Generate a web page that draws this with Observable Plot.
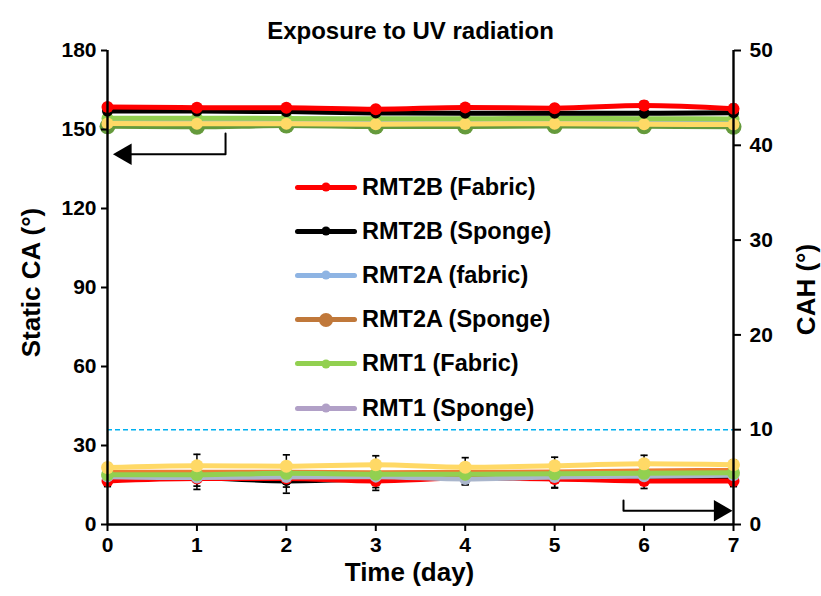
<!DOCTYPE html>
<html><head><meta charset="utf-8">
<script src="https://cdn.jsdelivr.net/npm/d3@7"></script>
<script src="https://cdn.jsdelivr.net/npm/@observablehq/plot@0.6"></script>
<style>
body{margin:0;background:#fff;font-family:"Liberation Sans",Arial,sans-serif;}
#wrap{position:relative;width:821px;height:596px;}
#legend{position:absolute;left:295px;top:165px;}
.row{display:flex;align-items:center;height:44.2px;}
.sw{position:relative;width:62px;height:22px;margin-right:5px}
.sw .ln{position:absolute;left:0;right:0;top:8.5px;height:5px;border-radius:3px}
.sw .dt{position:absolute;left:50%;top:50%;border-radius:50%;transform:translate(-50%,-50%)}
.lb{font-weight:bold;font-size:23.5px;color:#000;white-space:nowrap}
</style></head>
<body><div id="wrap"><div id="chart"></div><div id="legend"></div></div>
<script>
const days = [0,1,2,3,4,5,6,7];
const xTicks = [0,1,2,3,4,5,6,7];
const caTicks = [0,30,60,90,120,150,180];
const cahTicks = [0,10,20,30,40,50];
const cahMax = 50, caMax = 180;

// Static CA (left axis)
const caRed    = [158.5,158.3,158.3,157.7,158.4,158.1,159.1,157.9];
const caRedErr = [1.2,1.2,1.2,1.3,1.3,1.3,1.6,1.6];
const caBlack  = [157.0,157.0,156.8,156.3,156.2,156.2,156.2,156.4];
const caBlackErr = [0.6,0.8,0.8,0.8,0.8,0.8,1.0,0.8];
const caBlue   = [153.6,153.5,153.6,153.4,153.5,153.5,153.4,153.3];
const caLGreen = [154.3,154.3,154.2,154.1,154.1,154.2,154.1,154.0];
const caYellow = [152.3,152.2,152.2,152.0,152.1,152.2,152.0,151.9];
const caDGreen = [151.2,151.0,151.5,151.1,151.1,151.3,151.2,151.0];

// CAH (right axis)
const cahYellow = [6.0,6.2,6.15,6.3,6.05,6.2,6.4,6.3];
const cahYellowErr = [0.5,1.2,1.2,0.95,1.0,0.9,0.9,0.5];
const cahOrange = [5.5,5.5,5.5,5.45,5.5,5.55,5.65,5.7];
const cahGreen  = [5.25,5.25,5.4,5.3,5.3,5.35,5.4,5.45];
const cahBlue   = [5.05,4.95,5.0,5.05,4.8,5.0,5.1,5.2];
const cahBlack  = [4.75,4.9,4.6,4.8,4.9,4.85,5.0,5.0];
const cahBlackErr = [0.5,1.2,1.3,0.9,0.7,1.0,0.6,0.6];
const cahRed    = [4.6,4.85,4.85,4.6,4.9,4.8,4.6,4.6];
const cahRedErr = [0.6,0.8,0.9,1.0,0.7,0.9,0.8,0.6];

const legendNames = ["RMT2B (Fabric)","RMT2B (Sponge)","RMT2A (fabric)","RMT2A (Sponge)","RMT1 (Fabric)","RMT1 (Sponge)"];
const legendColors = ["#FF0000","#000000","#8EB4E3","#C0783A","#92D050","#B1A0C7"];
const legendDot = [9,9,9,14,9,9];

// annotation arrows (data units: day, CA)
const arrowTop = [[1.32,148.5],[1.32,140.6],[0.25,140.6]];
const arrowTopHead = [[0.2,140.6]];
const arrowBot = [[5.77,9.1],[5.77,5.2],[6.8,5.2]];
const arrowBotHead = [[6.85,5.2]];

const k = caMax / cahMax;
const rows = (vals, scale=1) => days.map((d,i)=>({day:d, v: vals[i]*scale}));
const errRows = (vals, errs, scale=1) => days.map((d,i)=>({day:d, lo:(vals[i]-errs[i])*scale, hi:(vals[i]+errs[i])*scale}));

const topSeries = [
  {v:caDGreen, c:"#659A3C", r:8},
  {v:caBlue, c:"#AAB6CC", r:5},
  {v:caLGreen, c:"#92D050", r:6},
  {v:caYellow, c:"#FFD966", r:6},
  {v:caBlack, c:"#000000", r:5.5},
  {v:caRed, c:"#FF0000", r:6},
];
const botSeries = [
  {v:cahBlack, c:"#000000", r:5},
  {v:cahRed, c:"#FF0000", r:6},
  {v:cahBlue, c:"#AAB6CC", r:6},
  {v:cahOrange, c:"#ED7D31", r:5},
  {v:cahGreen, c:"#92D050", r:6.5},
  {v:cahYellow, c:"#FFD966", r:6.5},
];
const errs = [
  errRows(caRed, caRedErr), errRows(caBlack, caBlackErr),
  errRows(cahYellow, cahYellowErr, k), errRows(cahBlack, cahBlackErr, k), errRows(cahRed, cahRedErr, k)
];

const marks = [];
marks.push(Plot.ruleY([10*k], {stroke:"#00B0F0", strokeWidth:1.6, strokeDasharray:"5,3"}));
for (const e of errs) {
  marks.push(Plot.ruleX(e, {x:"day", y1:"lo", y2:"hi", stroke:"#000", strokeWidth:1.5}));
  marks.push(Plot.link(e, {x1:d=>d.day-0.04, x2:d=>d.day+0.04, y1:"lo", y2:"lo", stroke:"#000", strokeWidth:1.7}));
  marks.push(Plot.link(e, {x1:d=>d.day-0.04, x2:d=>d.day+0.04, y1:"hi", y2:"hi", stroke:"#000", strokeWidth:1.7}));
}
for (const s of topSeries) {
  const r = rows(s.v);
  marks.push(Plot.line(r, {x:"day", y:"v", stroke:s.c, strokeWidth:5, curve:"monotone-x"}));
  marks.push(Plot.dot(r, {x:"day", y:"v", fill:s.c, r:s.r}));
}
for (const s of botSeries) {
  const r = rows(s.v, k);
  marks.push(Plot.line(r, {x:"day", y:"v", stroke:s.c, strokeWidth:5, curve:"monotone-x"}));
  marks.push(Plot.dot(r, {x:"day", y:"v", fill:s.c, r:s.r}));
}
marks.push(Plot.line(arrowTop, {x:d=>d[0], y:d=>d[1], stroke:"#000", strokeWidth:2}));
marks.push(Plot.dot(arrowTopHead, {x:d=>d[0], y:d=>d[1], symbol:"triangle", fill:"#000", r:8, rotate:-90}));
marks.push(Plot.line(arrowBot, {x:d=>d[0], y:d=>d[1], stroke:"#000", strokeWidth:2}));
marks.push(Plot.dot(arrowBotHead, {x:d=>d[0], y:d=>d[1], symbol:"triangle", fill:"#000", r:8, rotate:90}));
marks.push(Plot.ruleY([0], {stroke:"#000", strokeWidth:2.4}));
marks.push(Plot.ruleX([0], {stroke:"#000", strokeWidth:2.4}));
marks.push(Plot.ruleX([7], {stroke:"#000", strokeWidth:2.4}));
marks.push(Plot.axisX(xTicks, {tickSize:7, tickPadding:6, strokeWidth:2, fontSize:21, fontWeight:"bold", label:null, tickFormat:d=>d}));
marks.push(Plot.axisY(caTicks, {anchor:"left", tickSize:6, tickPadding:5, strokeWidth:2, fontSize:21, fontWeight:"bold", label:null, tickFormat:d=>d}));
marks.push(Plot.axisY(cahTicks.map(t=>t*k), {anchor:"right", tickSize:7, tickPadding:9, strokeWidth:2, fontSize:21, fontWeight:"bold", label:null, tickFormat:d=>Math.round(d/k)}));
marks.push(Plot.text(["Exposure to UV radiation"], {frameAnchor:"top", dx:-10, dy:-29, fontSize:24, fontWeight:"bold", fill:"#000"}));
marks.push(Plot.text(["Time (day)"], {frameAnchor:"bottom", dx:-11, dy:56, fontSize:26, fontWeight:"bold", fill:"#000"}));
marks.push(Plot.text(["Static CA (°)"], {frameAnchor:"left", dx:-76, dy:-5, rotate:-90, textAnchor:"middle", fontSize:26, fontWeight:"bold", fill:"#000"}));
marks.push(Plot.text(["CAH (°)"], {frameAnchor:"right", dx:73, dy:2, rotate:-90, textAnchor:"middle", fontSize:26, fontWeight:"bold", fill:"#000"}));

const chart = Plot.plot({
  width:821, height:596,
  marginLeft:107, marginRight:88, marginTop:50, marginBottom:72,
  x:{domain:[0,7]},
  y:{domain:[0,caMax]},
  style:{fontFamily:"'Liberation Sans', Arial, sans-serif", color:"#000", background:"#fff"},
  marks
});
document.getElementById("chart").appendChild(chart);

const lg = document.getElementById("legend");
legendNames.forEach((n,i)=>{
  const row = document.createElement("div"); row.className="row";
  row.innerHTML = `<div class="sw"><div class="ln" style="background:${legendColors[i]}"></div><div class="dt" style="background:${legendColors[i]};width:${legendDot[i]}px;height:${legendDot[i]}px"></div></div><span class="lb">${n}</span>`;
  lg.appendChild(row);
});
</script></body></html>
